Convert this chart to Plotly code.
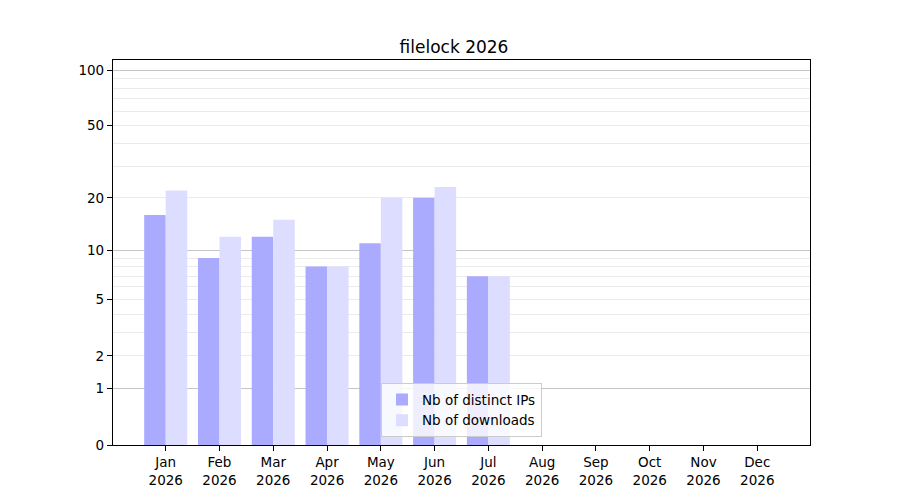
import plotly.graph_objects as go

months = ["Jan", "Feb", "Mar", "Apr", "May", "Jun", "Jul", "Aug", "Sep", "Oct", "Nov", "Dec"]
year = "2026"
distinct_ips = [16, 9, 12, 8, 11, 20, 7, 0, 0, 0, 0, 0]
downloads = [22, 12, 15, 8, 20, 23, 7, 0, 0, 0, 0, 0]

tick_values = [0, 1, 2, 5, 10, 20, 50, 100]
minor_values = [2, 3, 4, 5, 6, 7, 8, 9, 20, 30, 40, 50, 60, 70, 80, 90]
major_values = [1, 10, 100]

# log(1 + x) axis, the way the original keeps zero on the chart
labels = [f"{m}<br>{year}" for m in months]
shift = lambda vals: [v + 1 for v in vals]
yrange = [0, 2.059]

fig = go.Figure()
fig.add_trace(go.Bar(x=labels, y=shift(distinct_ips), name="Nb of distinct IPs",
                     marker=dict(color="#aaaaff", line=dict(width=0)),
                     hoverinfo="skip"))
fig.add_trace(go.Bar(x=labels, y=shift(downloads), name="Nb of downloads",
                     marker=dict(color="#ddddff", line=dict(width=0)),
                     hoverinfo="skip"))

# page body has an 8px margin, so the figure is 8px smaller on each axis
font = "DejaVu Sans, Verdana, sans-serif"
fig.update_layout(
    width=892, height=492,
    paper_bgcolor="white", plot_bgcolor="white",
    margin=dict(l=105, r=90, t=52, b=55),
    font=dict(family=font, size=13.5, color="black"),
    title=dict(text="filelock 2026", x=0.5, xanchor="center", y=0.92, yanchor="middle",
               font=dict(size=17)),
    barmode="group", bargap=0.2, bargroupgap=0,
    showlegend=True,
    legend=dict(x=0.5, xanchor="center", y=0.02, yanchor="bottom",
                bgcolor="rgba(255,255,255,0.8)", bordercolor="#cccccc", borderwidth=1,
                font=dict(size=13.5), itemwidth=30, tracegroupgap=0),
    xaxis=dict(range=[-0.98, 11.98], showline=True, linecolor="black", linewidth=1.2,
               mirror=True, ticks="outside", ticklen=5, tickcolor="black",
               showgrid=False, zeroline=False),
    yaxis=dict(type="log", range=yrange, showline=True, linecolor="black", linewidth=1.2,
               mirror=True, ticks="outside", ticklen=5, tickcolor="black",
               tickmode="array", tickvals=shift(tick_values),
               ticktext=[str(t) for t in tick_values],
               showgrid=False, zeroline=False,
               minor=dict(tickmode="array", tickvals=shift(minor_values), showgrid=True,
                          gridcolor="#ebebeb", gridwidth=1, ticks="")),
    yaxis2=dict(type="log", range=yrange, overlaying="y", side="left",
                tickmode="array", tickvals=shift(major_values), showticklabels=False,
                ticks="", showgrid=True, gridcolor="rgba(140,140,140,0.5)", gridwidth=1,
                layer="above traces", zeroline=False, showline=False),
)
# invisible trace so the overlay axis gets drawn
fig.add_trace(go.Scatter(x=[labels[0]], y=[1], yaxis="y2", mode="markers",
                         marker=dict(opacity=0), showlegend=False, hoverinfo="skip"))

fig.write_html("out.html")
